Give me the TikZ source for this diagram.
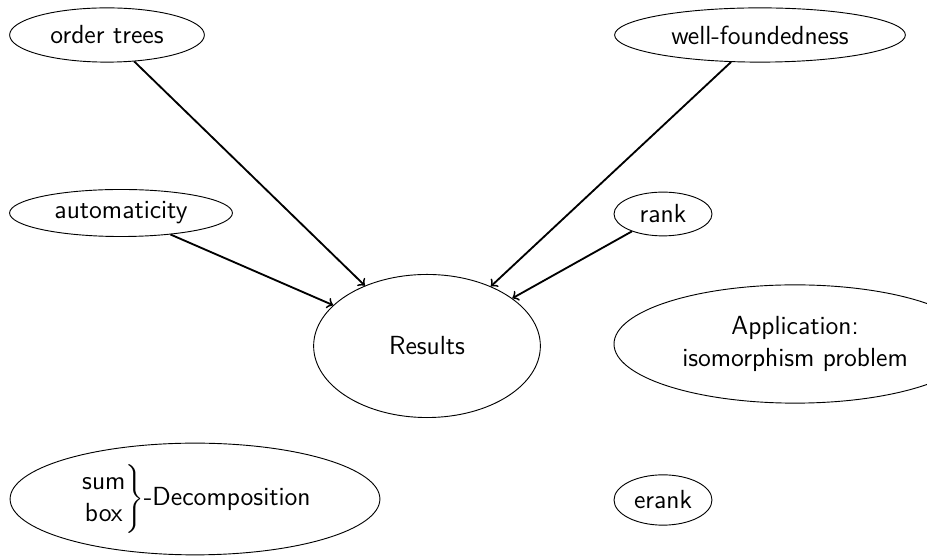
\documentclass[tikz,border=0pt]{standalone}
\usetikzlibrary{shapes.geometric}

\begin{document}
\begin{tikzpicture}
[x=0.0153cm, y=-0.0153cm,
every node/.style = {ellipse,draw,inner sep=0pt,font=\sffamily\fontsize{11.4}{13.9}\selectfont},
arr/.style = {->,thick}]
\useasboundingbox (0,0) rectangle (927,560);
\node[minimum width=2.98cm,minimum height=0.83cm] (trees) at (107,35) {order trees};
\node[minimum width=4.45cm,minimum height=0.83cm] (wf) at (760,35) {well-foundedness};
\node[minimum width=3.41cm,minimum height=0.72cm] (auto) at (121,213) {automaticity};
\node[minimum width=1.5cm,minimum height=0.67cm] (rank) at (663,214) {rank};
\node[minimum width=3.47cm,minimum height=2.19cm] (results) at (427,346) {Results};
\node[minimum width=5.54cm,minimum height=1.81cm,align=center] (iso) at (795,344) {Application:\\isomorphism problem};
\node[minimum width=5.66cm,minimum height=1.71cm] (decomp) at (195,499)
{$\left.\begin{tabular}{@{}c@{}}\sffamily sum\\\sffamily box\end{tabular}\right\}$-Decomposition};
\node[minimum width=1.5cm,minimum height=0.77cm] (erank) at (663,500) {erank};

\draw[arr] (trees) -- (results);
\draw[arr] (wf) -- (results);
\draw[arr] (auto) -- (results);
\draw[arr] (rank) -- (results);
\end{tikzpicture}
\end{document}
